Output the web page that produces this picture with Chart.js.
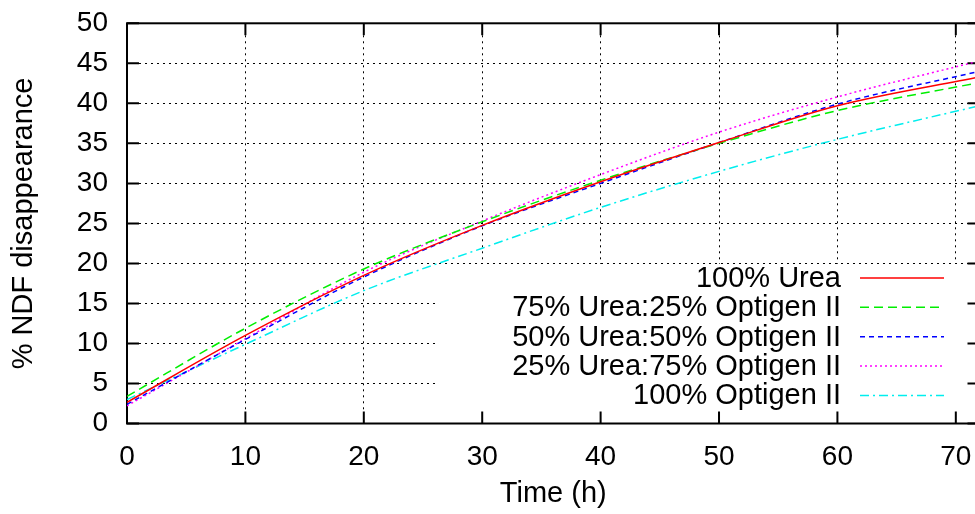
<!DOCTYPE html>
<html>
<head>
<meta charset="utf-8">
<script src="https://cdn.jsdelivr.net/npm/chart.js@4.4.1/dist/chart.umd.min.js"></script>
<style>
  html, body { margin: 0; padding: 0; background: #fff; overflow: hidden; width: 975px; height: 514px; }
  #wrap { width: 984px; height: 514px; }
</style>
</head>
<body>
<div id="wrap"><canvas id="c" width="984" height="514"></canvas></div>
<script>
// ---- data ----
const times = [0, 10, 20, 30, 40, 50, 60, 72];
const urea100      = [2.65, 11.0, 18.5, 24.75, 30.2, 35.1, 39.7, 43.3];
const urea75opt25  = [3.4, 11.9, 19.3, 25.2, 30.4, 35.0, 39.1, 42.6];
const urea50opt50  = [2.4, 10.5, 18.3, 24.7, 30.0, 35.1, 39.9, 44.0];
const urea25opt75  = [2.2, 10.6, 18.9, 25.3, 31.1, 36.4, 40.8, 45.3];
const optigen100   = [3.0, 9.9, 16.6, 21.9, 27.0, 31.5, 35.5, 39.7];
const seriesLabels = ['100% Urea', '75% Urea:25% Optigen II', '50% Urea:50% Optigen II', '25% Urea:75% Optigen II', '100% Optigen II'];
const xTickValues = [0, 10, 20, 30, 40, 50, 60, 70];
const yTickValues = [0, 5, 10, 15, 20, 25, 30, 35, 40, 45, 50];
const xTitle = 'Time (h)';
const yTitle = '% NDF disappearance';

const FONT = 'Liberation Sans, Arial, Helvetica, sans-serif';
const colors = ['#ff0000', '#00ee00', '#0000ff', '#ff00ff', '#00eeee'];
const dashes = [[], [9, 5], [5, 4], [2, 3], [9, 4, 2, 4]];
const allSeries = [urea100, urea75opt25, urea50opt50, urea25opt75, optigen100];

const datasets = allSeries.map((arr, i) => ({
  label: seriesLabels[i],
  data: times.map((t, j) => ({ x: t, y: arr[j] })),
  borderColor: colors[i],
  backgroundColor: colors[i],
  borderWidth: 1.5,
  borderDash: dashes[i],
  pointRadius: 0,
  fill: false,
  cubicInterpolationMode: 'monotone'
}));

const frame = {
  id: 'frame',
  beforeDatasetsDraw(chart) {
    const { ctx, chartArea: a, scales } = chart;
    ctx.save();
    // opaque key box
    ctx.fillStyle = '#fff';
    ctx.fillRect(437, 264, a.right - 437, 146);
    // border
    ctx.strokeStyle = '#000';
    ctx.lineWidth = 2;
    ctx.setLineDash([]);
    ctx.strokeRect(a.left, a.top, a.right - a.left, a.bottom - a.top);
    // inward ticks, mirrored
    const tl = 12;
    ctx.beginPath();
    xTickValues.forEach(v => {
      const px = scales.x.getPixelForValue(v);
      ctx.moveTo(px, a.bottom); ctx.lineTo(px, a.bottom - tl);
      ctx.moveTo(px, a.top); ctx.lineTo(px, a.top + tl);
    });
    yTickValues.forEach(v => {
      const py = scales.y.getPixelForValue(v);
      ctx.moveTo(a.left, py); ctx.lineTo(a.left + tl, py);
      ctx.moveTo(a.right, py); ctx.lineTo(a.right - tl, py);
    });
    ctx.stroke();
    ctx.restore();
  },
  afterDraw(chart) {
    const { ctx } = chart;
    ctx.save();
    ctx.font = '29px ' + FONT;
    ctx.textAlign = 'right';
    ctx.textBaseline = 'middle';
    ctx.fillStyle = '#000';
    chart.data.datasets.forEach((ds, i) => {
      const y = 278 + i * 29.35;
      ctx.fillText(ds.label, 841, y + 1);
      ctx.strokeStyle = ds.borderColor;
      ctx.lineWidth = 1.5;
      ctx.setLineDash(ds.borderDash);
      ctx.beginPath();
      ctx.moveTo(860, y);
      ctx.lineTo(944, y);
      ctx.stroke();
    });
    ctx.restore();
  }
};

new Chart(document.getElementById('c'), {
  type: 'line',
  data: { datasets },
  plugins: [frame],
  options: {
    responsive: false,
    animation: false,
    devicePixelRatio: 1,
    layout: { padding: { top: 23.3, right: 4.5, left: 0, bottom: 0 } },
    plugins: { legend: { display: false }, tooltip: { enabled: false } },
    scales: {
      x: {
        type: 'linear',
        min: 0, max: 72,
        afterBuildTicks: s => { s.ticks = xTickValues.map(v => ({ value: v })); },
        afterFit: s => { s.height = 90.5; },
        grid: { color: '#000', lineWidth: 1, drawTicks: true, tickLength: 16.7, tickColor: 'rgba(0,0,0,0)' },
        border: { display: false, dash: [2, 4] },
        ticks: { color: '#000', padding: 0, maxRotation: 0, font: { family: FONT, size: 28 } },
        title: { display: true, text: xTitle, color: '#000', font: { family: FONT, size: 29 }, padding: { top: 0, bottom: 2.2 } }
      },
      y: {
        type: 'linear',
        min: 0, max: 50,
        afterBuildTicks: s => { s.ticks = yTickValues.map(v => ({ value: v })); },
        afterFit: s => { s.width = 127; },
        grid: { color: '#000', lineWidth: 1, drawTicks: true, tickLength: 19, tickColor: 'rgba(0,0,0,0)' },
        border: { display: false, dash: [2, 4] },
        ticks: { color: '#000', padding: 0, font: { family: FONT, size: 28 } },
        title: { display: true, text: yTitle, color: '#000', font: { family: FONT, size: 29 }, padding: { top: 6.5, bottom: 0 } }
      }
    }
  }
});
</script>
</body>
</html>
